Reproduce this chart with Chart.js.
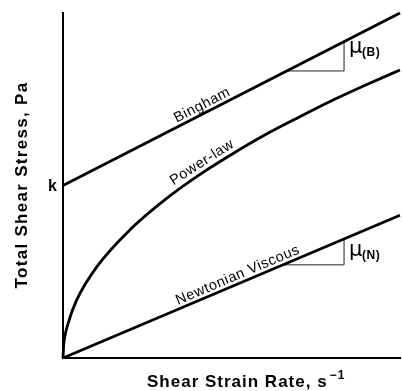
<!DOCTYPE html>
<html>
<head>
<meta charset="utf-8">
<script src="https://cdn.jsdelivr.net/npm/chart.js@4/dist/chart.umd.min.js"></script>
<style>
  html, body { margin: 0; padding: 0; background: #fff; }
  #wrap { width: 402px; height: 391px; }
</style>
</head>
<body>
<div id="wrap"><canvas id="c" width="402" height="391"></canvas></div>
<script>
// ---- data (arbitrary units, axes 0..10) ----
const binghamX = [0, 10];
const binghamY = [5.0, 10.0];

const powerLawX = [0, 0.02, 0.05, 0.15, 0.4, 1, 2, 3, 4, 5, 6, 7, 8, 9, 10];
const powerLawY = [0, 0.37, 0.6, 1.0, 1.67, 2.64, 3.73, 4.57, 5.28, 5.9, 6.47, 6.98, 7.47, 7.92, 8.35];

const newtonianX = [0, 10];
const newtonianY = [0, 4.14];

// slope triangles
const triBX = [6.59, 8.34, 8.34];
const triBY = [8.32, 8.32, 9.17];
const triNX = [6.52, 8.34, 8.34];
const triNY = [2.70, 2.70, 3.45];

const curveLabels = ['Bingham', 'Power-law', 'Newtonian Viscous'];
const yieldLabel = 'k';
const yieldValue = 5.0;
const xTitle = 'Shear Strain Rate, s';
const xTitleSup = '\u22121';
const yTitle = 'Total Shear Stress, Pa';

function pts(xs, ys) { return xs.map((x, i) => ({ x: x, y: ys[i] })); }

const lineStyle = { showLine: true, borderColor: '#000', borderWidth: 2.8, pointRadius: 0, fill: false, clip: false };
const thin = { showLine: true, borderColor: '#222', borderWidth: 1, pointRadius: 0, fill: false, clip: false };

// label anchors on curves (data coords) and which dataset they follow
const labelPlacement = [
  { ds: 0, x: 4.24, off: 3, size: 14.5 },
  { ds: 1, x: 4.27, off: 4, size: 14.5 },
  { ds: 2, x: 5.28, off: 3, size: 14.5 }
];

function interp(data, x) {
  for (let i = 0; i < data.length - 1; i++) {
    if (x >= data[i].x && x <= data[i + 1].x) {
      const t = (x - data[i].x) / (data[i + 1].x - data[i].x);
      return data[i].y + t * (data[i + 1].y - data[i].y);
    }
  }
  return data[data.length - 1].y;
}

const textPlugin = {
  id: 'texts',
  afterDraw(chart) {
    const ctx = chart.ctx;
    const xs = chart.scales.x, ys = chart.scales.y;
    ctx.save();
    ctx.fillStyle = '#000';
    // curve labels
    labelPlacement.forEach((p, i) => {
      const data = chart.data.datasets[p.ds].data;
      const y = interp(data, p.x);
      const px = xs.getPixelForValue(p.x), py = ys.getPixelForValue(y);
      const d = 0.3;
      const p1x = xs.getPixelForValue(p.x - d), p1y = ys.getPixelForValue(interp(data, p.x - d));
      const p2x = xs.getPixelForValue(p.x + d), p2y = ys.getPixelForValue(interp(data, p.x + d));
      const ang = Math.atan2(p2y - p1y, p2x - p1x);
      ctx.save();
      ctx.translate(px, py);
      ctx.rotate(ang);
      ctx.font = p.size + 'px "Liberation Sans", Arial, sans-serif';
      ctx.letterSpacing = '0.6px';
      ctx.textAlign = 'center';
      ctx.textBaseline = 'alphabetic';
      ctx.fillText(curveLabels[i], 0, -p.off - 1);
      ctx.restore();
    });
    // k label
    ctx.font = 'bold 16px "Liberation Sans", Arial, sans-serif';
    ctx.letterSpacing = '0px';
    ctx.textAlign = 'right';
    ctx.textBaseline = 'middle';
    ctx.fillText(yieldLabel, xs.left - 6, ys.getPixelForValue(yieldValue) + 1);
    // mu labels
    function mu(xv, yv, sub) {
      const px = xs.getPixelForValue(xv), py = ys.getPixelForValue(yv);
      ctx.textAlign = 'left';
      ctx.textBaseline = 'alphabetic';
      ctx.font = '21px "DejaVu Sans", sans-serif';
      ctx.fillText('\u03BC', px + 5, py);
      ctx.font = 'bold 12px "Liberation Sans", Arial, sans-serif';
      ctx.letterSpacing = '0.5px';
      ctx.fillText(sub, px + 18, py + 3);
      ctx.letterSpacing = '0px';
    }
    mu(8.34, 8.84, '(B)');
    mu(8.34, 2.97, '(N)');
    // axis titles
    ctx.font = 'bold 17px "Liberation Sans", Arial, sans-serif';
    ctx.letterSpacing = '1px';
    ctx.textAlign = 'left';
    ctx.textBaseline = 'alphabetic';
    const tx = 147, tyy = 387;
    ctx.fillText(xTitle, tx, tyy);
    const w = ctx.measureText(xTitle).width;
    ctx.font = 'bold 12px "Liberation Sans", Arial, sans-serif';
    ctx.letterSpacing = '1px';
    ctx.fillText(xTitleSup, tx + w + 2, tyy - 8);
    ctx.save();
    ctx.translate(27, 185);
    ctx.rotate(-Math.PI / 2);
    ctx.font = 'bold 17px "Liberation Sans", Arial, sans-serif';
    ctx.letterSpacing = '1.3px';
    ctx.textAlign = 'center';
    ctx.fillText(yTitle, 0, 0);
    ctx.restore();
    ctx.restore();
  }
};

new Chart(document.getElementById('c'), {
  type: 'scatter',
  data: {
    datasets: [
      Object.assign({ label: curveLabels[0], data: pts(binghamX, binghamY) }, lineStyle),
      Object.assign({ label: curveLabels[1], data: pts(powerLawX, powerLawY), cubicInterpolationMode: 'monotone' }, lineStyle),
      Object.assign({ label: curveLabels[2], data: pts(newtonianX, newtonianY) }, lineStyle),
      Object.assign({ label: 'triB', data: pts(triBX, triBY) }, thin),
      Object.assign({ label: 'triN', data: pts(triNX, triNY) }, thin)
    ]
  },
  options: {
    responsive: false,
    animation: false,
    devicePixelRatio: 1,
    layout: { padding: { left: 63, top: 13, right: 2, bottom: 33 } },
    plugins: { legend: { display: false }, tooltip: { enabled: false } },
    scales: {
      x: {
        type: 'linear', min: 0, max: 10,
        grid: { display: false, drawTicks: false },
        border: { display: true, color: '#000', width: 2 },
        ticks: { display: false },
        afterFit(s) { s.height = 0; }
      },
      y: {
        type: 'linear', min: 0, max: 10,
        grid: { display: false, drawTicks: false },
        border: { display: true, color: '#000', width: 2 },
        ticks: { display: false },
        afterFit(s) { s.width = 0; }
      }
    }
  },
  plugins: [textPlugin]
});
</script>
</body>
</html>
